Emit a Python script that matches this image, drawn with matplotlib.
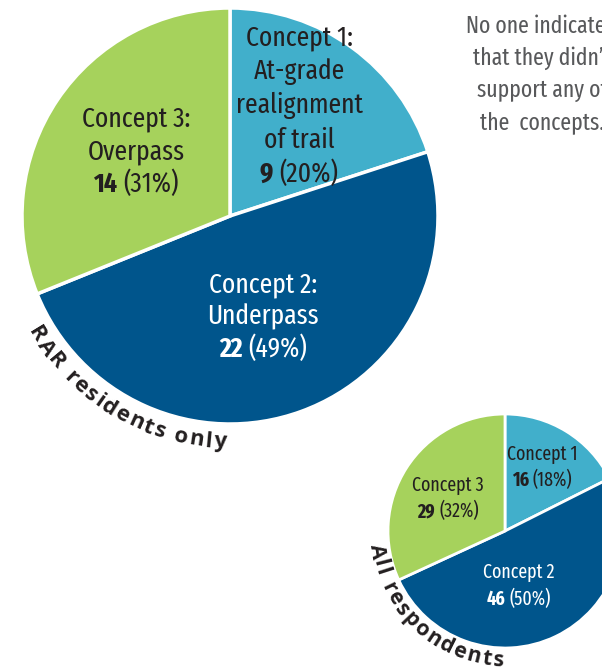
import numpy as np
import matplotlib
matplotlib.use("Agg")
import matplotlib.pyplot as plt

W, H = 602, 668

# data
counts_rar = [9, 22, 14]
pct_rar = [20, 49, 31]
names_rar = [["Concept 1:", "At-grade", "realignment", "of trail"],
             ["Concept 2:", "Underpass"],
             ["Concept 3:", "Overpass"]]
counts_all = [16, 46, 29]
pct_all = [18, 50, 32]
names_all = [["Concept 1"], ["Concept 2"], ["Concept 3"]]
title_rar = "RAR residents only"
title_all = "All respondents"
note_lines = ["No one indicated", "that they didn\u2019t", "support any of", "the  concepts."]

colors = ["#41AFCB", "#00558C", "#A6D25C"]
txt_colors = ["#231F20", "white", "#231F20"]
DARK = "#231F20"
COND = ["Fira Sans Extra Condensed", "DejaVu Sans"]

fig = plt.figure(figsize=(W / 100, H / 100), dpi=100)
ax = fig.add_axes([0, 0, 1, 1])
renderer = fig.canvas.get_renderer()


def text_width(s, **kw):
    t = ax.text(0, 0, s, **kw)
    w = t.get_window_extent(renderer).width
    t.remove()
    return w


def draw_label(x, y0, step, name_lines, count, pct, size, color):
    # y0 is the baseline of the first line
    y = y0
    for line in name_lines:
        ax.text(x, y, line, ha="center", va="baseline", fontsize=size,
                family=COND, color=color)
        y += step
    bold = str(count)
    rest = "(%d%%)" % pct
    gap = size * 0.3
    wb = text_width(bold, fontsize=size, family=COND, weight="bold")
    wr = text_width(rest, fontsize=size, family=COND)
    left = x - (wb + gap + wr) / 2
    ax.text(left, y, bold, ha="left", va="baseline", fontsize=size,
            family=COND, weight="bold", color=color)
    ax.text(left + wb + gap, y, rest, ha="left", va="baseline", fontsize=size,
            family=COND, color=color)


def arc_text(s, cx, cy, r, a0, a1, size):
    # letters sit on a circle of radius r, tops facing the pie centre
    kw = dict(fontsize=size, family=["Open Sans", "DejaVu Sans"], weight="bold")
    widths = [size * 0.45 if ch == " " else text_width(ch, **kw) for ch in s]
    centers = np.cumsum(widths) - np.array(widths) / 2
    centers = centers - centers[0]
    arc = r * np.radians(a1 - a0)
    extra = (arc - centers[-1]) / (len(s) - 1)
    for i, ch in enumerate(s):
        if ch == " ":
            continue
        a = a0 + np.degrees((centers[i] + extra * i) / r)
        ar = np.radians(a)
        ax.text(cx + r * np.cos(ar), cy - r * np.sin(ar), ch, rotation=a + 90,
                rotation_mode="anchor", ha="center", va="baseline",
                color=DARK, **kw)


# big pie: RAR residents only
cx1, cy1, r1 = 230, 216, 208
ax.pie(counts_rar, colors=colors, startangle=-90, counterclock=True,
       center=(cx1, cy1), radius=r1,
       wedgeprops=dict(edgecolor="white", linewidth=2.5))

# small pie: all respondents
cx2, cy2, r2 = 505, 531, 117
ax.pie(counts_all, colors=colors, startangle=-90, counterclock=True,
       center=(cx2, cy2), radius=r2,
       wedgeprops=dict(edgecolor="white", linewidth=2))

ax.set_xlim(0, W)
ax.set_ylim(H, 0)
ax.set_aspect("auto")
ax.axis("off")

# labels, big pie
draw_label(299, 45, 34.2, names_rar[0], counts_rar[0], pct_rar[0], 20, txt_colors[0])
draw_label(263, 292, 32.5, names_rar[1], counts_rar[1], pct_rar[1], 20, txt_colors[1])
draw_label(136, 126, 33, names_rar[2], counts_rar[2], pct_rar[2], 20, txt_colors[2])

# labels, small pie
draw_label(542, 460, 26, names_all[0], counts_all[0], pct_all[0], 14, txt_colors[0])
draw_label(519, 578, 27, names_all[1], counts_all[1], pct_all[1], 14, txt_colors[1])
draw_label(448, 491, 26, names_all[2], counts_all[2], pct_all[2], 14, txt_colors[2])

# curved titles
arc_text(title_rar, cx1, cy1, 232, 211.4, 267.4, 16)
arc_text(title_all, cx2, cy2, 135, 189, 267, 15.5)

# note
for i, line in enumerate(note_lines):
    ax.text(542, 33 + 32 * i, line, ha="center", va="baseline", fontsize=17,
            family=COND, color="#58595B")

fig.savefig("out.png", dpi=100)
